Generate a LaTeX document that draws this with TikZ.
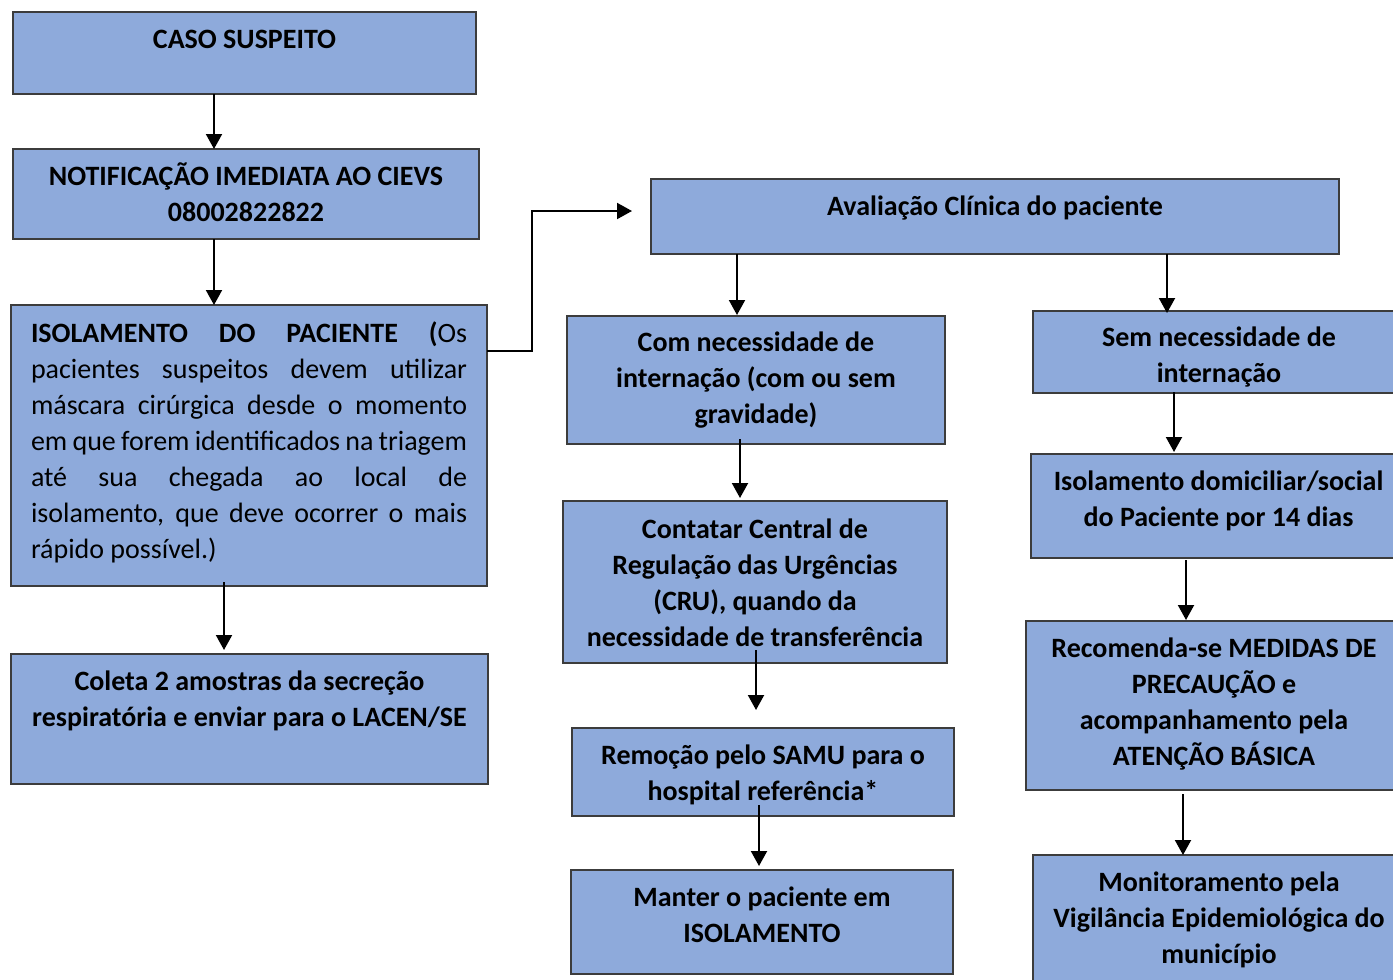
\documentclass[tikz,border=0pt]{standalone}
\usepackage{fontspec}
\setmainfont{Carlito}
\usetikzlibrary{arrows.meta,calc}
\definecolor{boxfill}{HTML}{8EAADB}
\definecolor{boxline}{HTML}{3C3C3C}
\newcommand\mybox[5]{\node[box, minimum width={#4-#2}, minimum height={#5-#3}] (#1) at (#2,#3) {};}
\newcommand\fl{\rule{0pt}{30pt}}
\tikzset{
  box/.style={draw=boxline, line width=1.2pt, fill=boxfill, anchor=north west, inner sep=0pt, outer sep=0pt},
  txt/.style={anchor=north, inner sep=0pt, align=center, font=\fontsize{28}{36}\selectfont\bfseries},
  txtj/.style={anchor=north, inner sep=0pt, align=left, font=\fontsize{28}{36}\selectfont},
  arr/.style={line width=2pt, -{Triangle[width=16pt,length=15pt]}},
}
\begin{document}
\begin{tikzpicture}[x=1pt,y=-1pt]
\useasboundingbox (0,0) rectangle (1393,980);
\clip (0,0) rectangle (1393,980);
\fill[white] (0,0) rectangle (1393,980);
% boxes
\mybox{caso}{13}{12}{476}{94}
\mybox{notif}{13}{149}{479}{239}
\mybox{isol}{11}{305}{487}{586}
\mybox{coleta}{11}{654}{488}{784}
\mybox{aval}{651}{179}{1339}{254}
\mybox{com}{567}{316}{945}{444}
\mybox{contatar}{563}{501}{947}{663}
\mybox{remocao}{572}{728}{954}{816}
\mybox{manter}{571}{870}{953}{974}
\mybox{sem}{1033}{311}{1405}{393}
\mybox{isold}{1031}{454}{1406}{558}
\mybox{recom}{1026}{621}{1402}{790}
\mybox{monit}{1033}{855}{1405}{1000}
% texts
\node[txt] (casot) at ([yshift=-6pt]caso.north) {\fl CASO SUSPEITO};
\node[txt] (notift) at ([yshift=-6pt]notif.north) {\fl NOTIFICAÇÃO IMEDIATA AO CIEVS\\08002822822};
\node[txtj] (isolt) at ([yshift=-7pt]isol.north) {\fl\makebox[436pt][s]{\textbf{ISOLAMENTO DO PACIENTE (}Os}\\
\makebox[436pt][s]{pacientes suspeitos devem utilizar}\\
\makebox[436pt][s]{máscara cirúrgica desde o momento}\\
\makebox[436pt][s]{em que forem identificados na triagem}\\
\makebox[436pt][s]{até sua chegada ao local de}\\
\makebox[436pt][s]{isolamento, que deve ocorrer o mais}\\
rápido possível.)};
\node[txt] (coletat) at ([yshift=-6pt]coleta.north) {\fl Coleta 2 amostras da secreção\\respiratória e enviar para o LACEN/SE};
\node[txt] (avalt) at ([yshift=-6pt]aval.north) {\fl Avaliação Clínica do paciente};
\node[txt] (comt) at ([yshift=-5pt]com.north) {\fl Com necessidade de\\internação (com ou sem\\gravidade)};
\node[txt] (contatart) at ([yshift=-7pt]contatar.north) {\fl Contatar Central de\\Regulação das Urgências\\(CRU), quando da\\necessidade de transferência};
\node[txt] (remocaot) at ([yshift=-6pt]remocao.north) {\fl Remoção pelo SAMU para o\\hospital referência*};
\node[txt] (mantert) at ([yshift=-6pt]manter.north) {\fl Manter o paciente em\\ISOLAMENTO};
\node[txt] (semt) at ([yshift=-5pt]sem.north) {\fl Sem necessidade de\\internação};
\node[txt] (isoldt) at ([yshift=-6pt]isold.north) {\fl Isolamento domiciliar/social\\do Paciente por 14 dias};
\node[txt] (recomt) at ([yshift=-6pt]recom.north) {\fl Recomenda-se MEDIDAS DE\\PRECAUÇÃO e\\acompanhamento pela\\ATENÇÃO BÁSICA};
\node[txt] (monitt) at ([yshift=-6pt]monit.north) {\fl Monitoramento pela\\Vigilância Epidemiológica do\\município};
% arrows
\draw[arr] ([xshift=-30.5pt]caso.south) -- ([xshift=-30.5pt]caso.south |- notif.north);
\draw[arr] ([xshift=-32pt]notif.south) -- ([xshift=-32pt]notif.south |- isol.north);
\draw[arr, shorten <=-4pt, shorten >=4pt] ([xshift=-25pt]isol.south) -- ([xshift=-25pt]isol.south |- coleta.north);
\draw[arr, shorten >=19pt] ([yshift=-46pt]isol.north east) -- ++(45,0) |- ([yshift=5.5pt]aval.west);
\draw[arr, shorten >=1pt] ([xshift=-258pt]aval.south) -- ([xshift=-258pt]aval.south |- com.north);
\draw[arr, shorten >=-2pt] ([xshift=172pt]aval.south) -- ([xshift=172pt]aval.south |- sem.north);
\draw[arr, shorten <=-5pt, shorten >=3pt] ([xshift=-16pt]com.south) -- ([xshift=-16pt]com.south |- contatar.north);
\draw[arr, shorten <=-13pt, shorten >=18pt] ([xshift=1pt]contatar.south) -- ([xshift=1pt]contatar.south |- remocao.north);
\draw[arr, shorten <=-11pt, shorten >=4pt] ([xshift=-4pt]remocao.south) -- ([xshift=-4pt]remocao.south |- manter.north);
\draw[arr, shorten <=-1pt, shorten >=2pt] ([xshift=-45pt]sem.south) -- ([xshift=-45pt]sem.south |- isold.north);
\draw[arr, shorten <=2pt, shorten >=1pt] ([xshift=-32.5pt]isold.south) -- ([xshift=-32.5pt]isold.south |- recom.north);
\draw[arr, shorten <=4pt] ([xshift=-31pt]recom.south) -- ([xshift=-31pt]recom.south |- monit.north);
\end{tikzpicture}
\end{document}
